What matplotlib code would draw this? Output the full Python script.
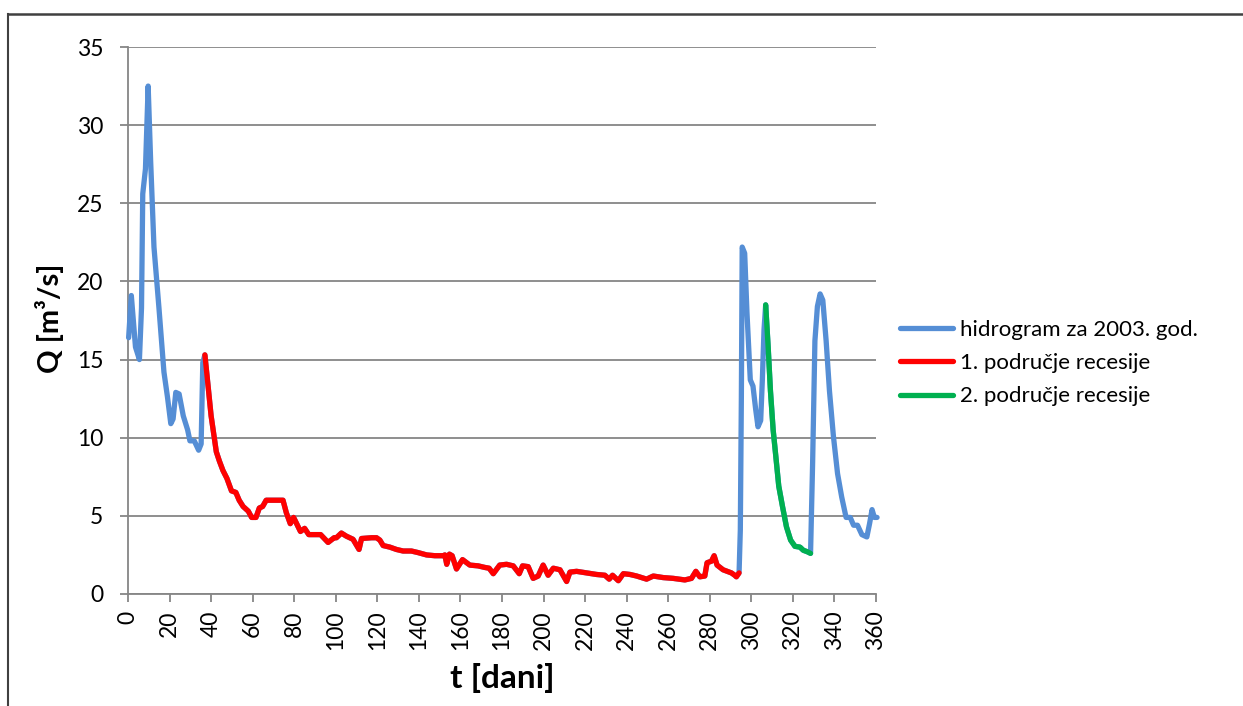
import matplotlib
matplotlib.use("Agg")
import matplotlib.pyplot as plt
from matplotlib.lines import Line2D
import numpy as np

# ---- data ----
blue1_t = [0.3, 1.6, 3.6, 5.5, 6.5, 7.1, 8.4, 9.7, 10.9, 12.5, 14.9, 17.3, 19.0, 20.6, 21.7,
           23.0, 24.6, 26.6, 28.7, 29.8, 31.9, 34.0, 35.2, 36.0]
blue1_q = [16.4, 19.1, 15.8, 15.0, 18.3, 25.6, 27.2, 32.5, 27.7, 22.2, 18.3, 14.2, 12.6, 10.9, 11.2,
           12.9, 12.8, 11.4, 10.5, 9.8, 9.8, 9.2, 9.6, 14.8]

red_t = [37.0, 38.4, 40.0, 42.5, 44.0, 45.7, 47.6, 49.8, 51.9, 53.5, 55.4, 57.9, 59.5, 61.6, 63.2,
         64.8, 66.5, 70.0, 74.6, 76.2, 78.1, 79.7, 83.0, 85.0, 87.0, 92.7, 96.3, 99.2, 100.3, 102.7,
         105.1, 108.3, 111.2, 112.4, 117.2, 119.6, 121.2, 122.8, 126.0, 129.2, 132.4, 136.4, 139.6,
         143.7, 147.7, 151.7, 152.5, 153.4, 154.7, 156.0, 158.1, 161.0, 164.5, 168.5, 171.7, 173.8,
         175.8, 178.9, 182.2, 185.4, 188.3, 189.9, 192.6, 195.0, 197.4, 199.8, 202.2, 204.7, 207.9,
         211.1, 212.7, 215.9, 220.7, 225.5, 229.5, 231.6, 233.2, 236.0, 238.4, 241.6, 244.8, 247.2,
         249.6, 252.8, 257.6, 262.4, 268.0, 271.2, 273.3, 275.2, 277.6, 278.7, 280.8, 282.1, 283.5,
         286.4, 290.4, 292.0, 292.8, 294.1]
red_q = [15.3, 13.5, 11.4, 9.1, 8.5, 7.9, 7.4, 6.6, 6.5, 6.0, 5.6, 5.3, 4.9, 4.9, 5.5,
         5.6, 6.0, 6.0, 6.0, 5.2, 4.5, 4.9, 4.0, 4.2, 3.8, 3.8, 3.3, 3.6, 3.6, 3.9,
         3.7, 3.5, 2.85, 3.55, 3.6, 3.6, 3.45, 3.1, 3.0, 2.85, 2.75, 2.75, 2.65,
         2.5, 2.45, 2.45, 2.5, 1.9, 2.55, 2.45, 1.6, 2.2, 1.85, 1.8, 1.7, 1.65,
         1.3, 1.85, 1.9, 1.8, 1.3, 1.8, 1.75, 1.0, 1.15, 1.85, 1.2, 1.65, 1.55,
         0.8, 1.4, 1.45, 1.35, 1.25, 1.2, 0.95, 1.2, 0.85, 1.3, 1.25, 1.15, 1.05,
         0.95, 1.15, 1.05, 1.0, 0.9, 1.0, 1.45, 1.1, 1.15, 2.0, 2.1, 2.45, 1.85,
         1.55, 1.35, 1.2, 1.1, 1.35]

blue2_t = [294.7, 295.2, 295.6, 296.8, 297.9, 299.5, 300.8, 302.1, 303.2, 304.5, 305.3, 306.1]
blue2_q = [4.1, 12.6, 22.2, 21.8, 18.0, 13.7, 13.3, 11.8, 10.7, 11.1, 13.7, 16.9]

green_t = [306.9, 308.1, 309.2, 310.5, 311.8, 313.2, 315.0, 316.9, 318.9, 321.0, 323.4, 325.0, 327.0, 328.5]
green_q = [18.5, 15.8, 13.0, 10.5, 8.8, 6.9, 5.6, 4.3, 3.45, 3.05, 3.0, 2.8, 2.7, 2.6]

blue3_t = [329.5, 330.6, 331.8, 333.1, 334.4, 336.0, 337.6, 339.5, 341.5, 343.5, 345.6, 347.6,
           349.2, 351.1, 353.2, 355.6, 356.9, 358.1, 359.2, 360.5]
blue3_q = [8.4, 16.2, 18.4, 19.2, 18.8, 16.2, 13.0, 10.1, 7.7, 6.2, 4.9, 4.9,
           4.4, 4.4, 3.8, 3.65, 4.5, 5.4, 4.9, 4.9]

labels = ["hidrogram za 2003. god.", "1. područje recesije", "2. područje recesije"]
x_ticks = list(range(0, 361, 20))
y_ticks = list(range(0, 36, 5))

# full hydrograph = all segments in time order
hydro_t = blue1_t + red_t + blue2_t + green_t + blue3_t
hydro_q = blue1_q + red_q + blue2_q + green_q + blue3_q

# ---- styling ----
W, H = 1243, 706
plt.rcParams['font.family'] = ['Lato', 'DejaVu Sans']
fig = plt.figure(figsize=(W / 100, H / 100), dpi=100)
ax = fig.add_axes([128 / W, 1 - 594 / H, (876 - 128) / W, (594 - 47) / H])

grey = '#868686'
lw = 3.8
ax.plot(hydro_t, hydro_q, color='#558ED5', lw=lw, solid_joinstyle='round',
        solid_capstyle='round', label=labels[0], clip_on=False, zorder=3)
ax.plot(red_t, red_q, color='#FF0000', lw=lw, solid_joinstyle='round',
        solid_capstyle='round', label=labels[1], zorder=4)
ax.plot(green_t, green_q, color='#00B050', lw=lw, solid_joinstyle='round',
        solid_capstyle='round', label=labels[2], zorder=4)

ax.set_xlim(0, 360)
ax.set_ylim(0, 35)
ax.set_xticks(x_ticks)
ax.set_yticks(y_ticks)
ax.set_xticklabels([str(v) for v in x_ticks], rotation=90)
ax.tick_params(axis='both', colors=grey, labelcolor='black', labelsize=16.5,
               length=5.8, width=1.3, direction='out')
ax.tick_params(axis='x', pad=6)
ax.tick_params(axis='y', pad=12)
ax.grid(axis='y', color=grey, lw=1.3)
ax.set_axisbelow(True)
for s in ['top', 'right']:
    ax.spines[s].set_visible(False)
for s in ['left', 'bottom']:
    ax.spines[s].set_color(grey)
    ax.spines[s].set_linewidth(1.3)

fig.text(502 / W, 1 - 678 / H, "t [dani]", ha='center', va='center',
         fontsize=24, fontweight='bold')
fig.text(50 / W, 1 - 318 / H, "Q [m³/s]", ha='center', va='center',
         rotation=90, fontsize=21, fontweight='bold')

fig.legend(loc='center left', bbox_to_anchor=(900 / W, 1 - 363 / H), frameon=False,
           fontsize=16, handlelength=2.4, handletextpad=0.3, labelspacing=0.6,
           borderpad=0, borderaxespad=0)

# chart border (Excel chart area)
fig.add_artist(Line2D([8 / W, 8 / W], [0, 1 - 14 / H], color='#404040', lw=1.5,
                      transform=fig.transFigure))
fig.add_artist(Line2D([8 / W, 1], [1 - 14 / H, 1 - 14 / H], color='#404040', lw=1.8,
                      transform=fig.transFigure))

fig.savefig("out.png", dpi=100)
